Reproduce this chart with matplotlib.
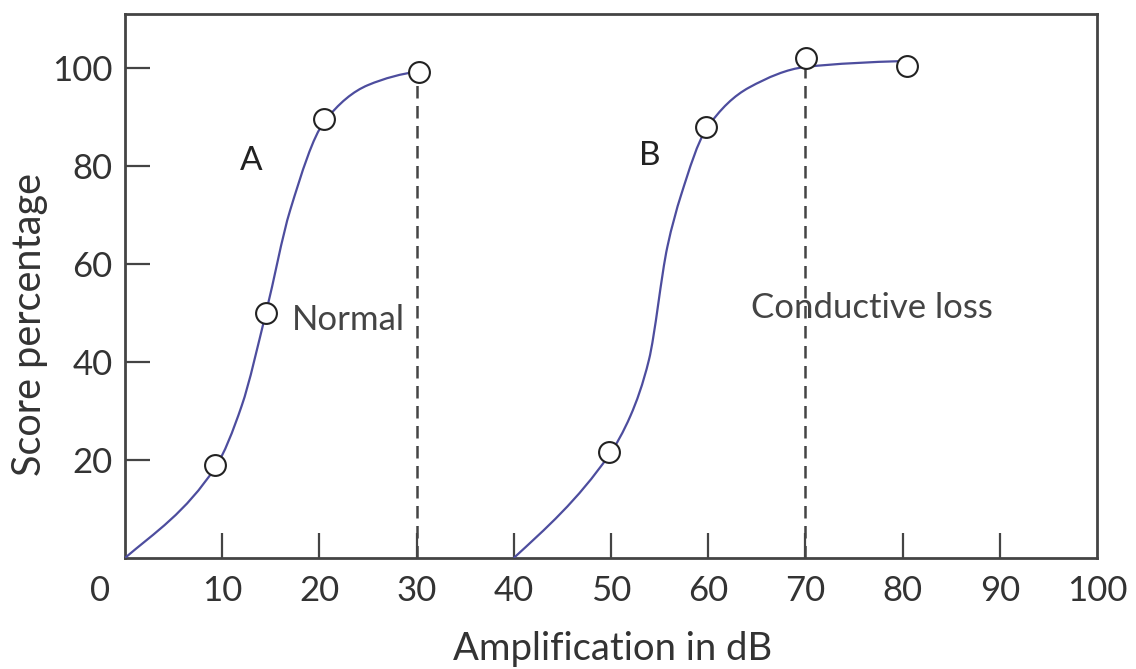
import numpy as np
import matplotlib
matplotlib.use("Agg")
import matplotlib.pyplot as plt
from matplotlib.path import Path
from matplotlib.patches import PathPatch
import matplotlib.transforms as mtransforms

plt.rcParams['font.family'] = ['Lato', 'DejaVu Sans']

# ---- data ----
x_ticks = [0, 10, 20, 30, 40, 50, 60, 70, 80, 90, 100]
y_ticks = [20, 40, 60, 80, 100]

# measured points (open circles)
a_points_x = [9.3, 14.5, 20.5, 30.2]
a_points_y = [19, 50, 89.6, 99.2]
b_points_x = [49.8, 59.8, 70.1, 80.4]
b_points_y = [21.6, 88, 102, 100.4]

# smooth fitted curves (knots)
a_curve_x = [0, 9.3, 12, 14.5, 17, 20.5, 25, 30.2]
a_curve_y = [0, 18.5, 31, 50, 71, 89, 96.5, 99.3]
b_curve_x = [40, 49.8, 52, 53.9, 55.8, 57.2, 59.8, 64.2, 70, 80]
b_curve_y = [0, 21, 29, 40.4, 63.5, 74, 87.5, 96, 100.2, 101.4]

# dashed reference lines
dash_x = [30, 70]
dash_top = [98.5, 100.2]

curve_color = '#4d4d9e'
ink = '#444444'

fig = plt.figure(figsize=(11.36, 6.69), dpi=100)
ax = fig.add_axes([0.110, 0.166, 0.8557, 0.813])


def smooth_path(xs, ys):
    """Monotone cubic (Fritsch-Carlson) curve expressed as Bezier segments."""
    x = np.asarray(xs, float)
    y = np.asarray(ys, float)
    h = np.diff(x)
    d = np.diff(y) / h
    m = np.zeros_like(x)
    m[0] = d[0] * 0.85
    m[-1] = d[-1] * 0.5
    for i in range(1, len(x) - 1):
        if d[i - 1] * d[i] <= 0:
            m[i] = 0
        else:
            w1 = 2 * h[i] + h[i - 1]
            w2 = h[i] + 2 * h[i - 1]
            m[i] = (w1 + w2) / (w1 / d[i - 1] + w2 / d[i])
    verts = [(x[0], y[0])]
    codes = [Path.MOVETO]
    for i in range(len(x) - 1):
        verts += [(x[i] + h[i] / 3, y[i] + m[i] * h[i] / 3),
                  (x[i + 1] - h[i] / 3, y[i + 1] - m[i + 1] * h[i] / 3),
                  (x[i + 1], y[i + 1])]
        codes += [Path.CURVE4] * 3
    return Path(verts, codes)


for cx, cy in [(a_curve_x, a_curve_y), (b_curve_x, b_curve_y)]:
    ax.add_patch(PathPatch(smooth_path(cx, cy), facecolor='none',
                           edgecolor=curve_color, lw=1.6, zorder=3))

for dx, dt in zip(dash_x, dash_top):
    ax.plot([dx, dx], [0, dt], color=ink, lw=1.8, dashes=(5, 3), zorder=2)

ax.plot(a_points_x, a_points_y, 'o', ms=15, mfc='white', mec='#222222',
        mew=1.5, zorder=4, clip_on=False)
ax.plot(b_points_x, b_points_y, 'o', ms=15, mfc='white', mec='#222222',
        mew=1.5, zorder=4, clip_on=False)

fs = 25
ax.text(13, 81, 'A', fontsize=fs - 1, color='#222222', ha='center', va='center')
ax.text(54, 82, 'B', fontsize=fs - 1, color='#222222', ha='center', va='center')
ax.text(17.2, 48.5, 'Normal', fontsize=fs, color=ink, ha='left', va='center')
ax.text(64.4, 51, 'Conductive loss', fontsize=fs, color=ink, ha='left', va='center')

ax.set_xlim(0, 100)
ax.set_ylim(0, 111)

ax.set_xticks(x_ticks)
ax.set_xticklabels([str(v) for v in x_ticks])
ax.set_yticks(y_ticks)
ax.set_yticklabels([str(v) for v in y_ticks])

ax.tick_params(axis='both', direction='in', length=18, width=1.6, color=ink,
               labelsize=fs, labelcolor='#333333')
ax.tick_params(axis='x', pad=12)
ax.tick_params(axis='y', pad=9)

for t in ax.xaxis.get_major_ticks():
    if t.get_loc() in (0, 100):
        t.tick1line.set_visible(False)

lbl0 = ax.get_xticklabels()[0]
lbl0.set_transform(lbl0.get_transform() + mtransforms.ScaledTranslation(-0.25, 0, fig.dpi_scale_trans))

for s in ax.spines.values():
    s.set_color(ink)
    s.set_linewidth(2)

ax.set_xlabel('Amplification in dB', fontsize=27.5, color='#333333', va='center')
ax.xaxis.set_label_coords(0.502, -0.167)
ax.set_ylabel('Score percentage', fontsize=28.5, color='#333333', va='center')
ax.yaxis.set_label_coords(-0.098, 0.43)

fig.savefig('out.png', dpi=100)
